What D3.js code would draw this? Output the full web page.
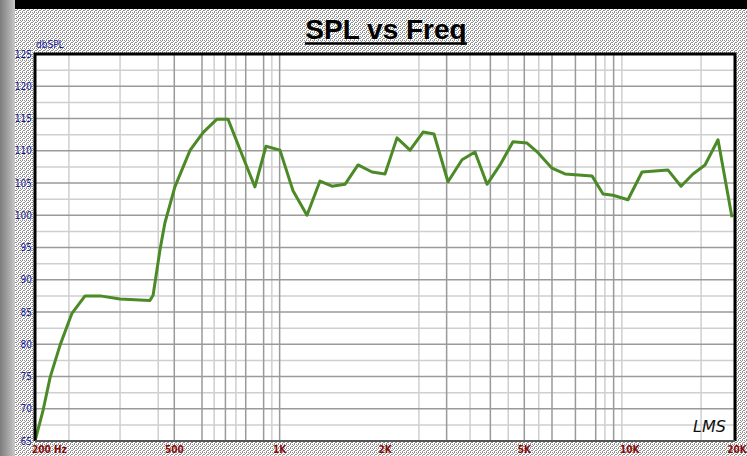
<!DOCTYPE html>
<html>
<head>
<meta charset="utf-8">
<script src="https://cdn.jsdelivr.net/npm/d3@7"></script>
<style>
  body { margin: 0; background: #fff; }
  svg { display: block; }
</style>
</head>
<body>
<div id="container"></div>
<script>
// measured response (Hz, dB SPL)
const freqs = [200, 211, 221, 236, 255, 278, 307, 350, 426, 435, 455, 470, 502, 555, 604, 662, 712,
  786, 850, 914, 1002, 1092, 1197, 1304, 1411, 1537, 1675, 1836, 2000, 2164, 2358, 2569, 2760,
  3027, 3320, 3615, 3913, 4262, 4642, 5090, 5472, 6000, 6537, 7806, 8394, 8961, 9890, 10850,
  12876, 14020, 15170, 16420, 17885, 19605];
const spl = [65, 69.8, 74.9, 79.9, 84.8, 87.5, 87.5, 87.0, 86.8, 87.6, 94.6, 98.8, 104.4, 110.1, 112.8, 114.9, 114.9,
  109.0, 104.4, 110.7, 110.1, 103.8, 100.0, 105.3, 104.5, 104.8, 107.8, 106.7, 106.4, 112.0, 110.1, 112.9, 112.6,
  105.2, 108.6, 109.8, 104.8, 107.8, 111.4, 111.2, 109.7, 107.3, 106.4, 106.1, 103.3, 103.1, 102.4, 106.7,
  107.0, 104.5, 106.4, 107.8, 111.7, 99.7];

const majorGridFreqs = [500, 600, 700, 800, 900, 1000, 3000, 4000, 5000, 6000, 7000, 8000, 9000];
const minorGridFreqs = [250, 350, 450, 650, 750, 950, 2500, 3500, 4500, 5500, 8500, 9500, 16000];
const xTickFreqs = [200, 500, 1000, 2000, 5000, 10000, 20000];
const xTickLabels = ["200 Hz", "500", "1K", "2K", "5K", "10K", "20K"];
const yTicks = [125, 120, 115, 110, 105, 100, 95, 90, 85, 80, 75, 70, 65];

const W = 747, H = 456;
const plot = { left: 35, right: 735, top: 54, bottom: 441 };

const x = d3.scaleLog().domain([200, 20000]).range([plot.left, plot.right]);
const y = d3.scaleLinear().domain([65, 125]).range([plot.bottom, plot.top]);

const svg = d3.select("#container").append("svg")
  .attr("width", W).attr("height", H);

// halftone background
const defs = svg.append("defs");
const pat = defs.append("pattern")
  .attr("id", "dots").attr("width", 4).attr("height", 4)
  .attr("patternUnits", "userSpaceOnUse");
pat.append("rect").attr("width", 4).attr("height", 4).attr("fill", "#fff");
[[0, 0], [2, 0], [1, 1], [3, 2], [0, 2], [2, 3]].forEach(p => {
  pat.append("rect").attr("x", p[0]).attr("y", p[1]).attr("width", 1).attr("height", 1).attr("fill", "#8e8e8e");
});
const grad = defs.append("linearGradient").attr("id", "edge").attr("x1", 0).attr("x2", 1);
grad.append("stop").attr("offset", 0).attr("stop-color", "#7c7c7c");
grad.append("stop").attr("offset", 0.6).attr("stop-color", "#a8a8a8");
grad.append("stop").attr("offset", 1).attr("stop-color", "#c8c8c8");

svg.append("rect").attr("width", W).attr("height", H).attr("fill", "url(#dots)");
svg.append("rect").attr("x", 0).attr("y", 0).attr("width", 15).attr("height", H).attr("fill", "url(#edge)");
svg.append("rect").attr("x", 15).attr("y", 0).attr("width", W - 15).attr("height", 9).attr("fill", "#000");

// title
svg.append("text")
  .attr("x", 386).attr("y", 39)
  .attr("text-anchor", "middle")
  .style("font-family", "'Liberation Sans', Arial, sans-serif")
  .style("font-weight", "bold").style("font-size", "28px")
  .text("SPL vs Freq");
svg.append("line")
  .attr("x1", 305).attr("x2", 467).attr("y1", 43.5).attr("y2", 43.5)
  .attr("stroke", "#000").attr("stroke-width", 2.5);

// plot area
svg.append("rect")
  .attr("x", plot.left).attr("y", plot.top)
  .attr("width", plot.right - plot.left).attr("height", plot.bottom - plot.top)
  .attr("fill", "#fff");

const grid = svg.append("g");
const minorDb = d3.range(67.5, 125, 5);
grid.selectAll(".hminor").data(minorDb).enter().append("line")
  .attr("x1", plot.left).attr("x2", plot.right)
  .attr("y1", d => y(d)).attr("y2", d => y(d))
  .attr("stroke", "#cfcfcf").attr("stroke-width", 1.5);
grid.selectAll(".vminor").data(minorGridFreqs).enter().append("line")
  .attr("x1", d => x(d)).attr("x2", d => x(d))
  .attr("y1", plot.top).attr("y2", plot.bottom)
  .attr("stroke", "#cfcfcf").attr("stroke-width", 1.5);
grid.selectAll(".hmajor").data(yTicks.slice(1, -1)).enter().append("line")
  .attr("x1", plot.left).attr("x2", plot.right)
  .attr("y1", d => y(d)).attr("y2", d => y(d))
  .attr("stroke", "#9a9a9a").attr("stroke-width", 1.5);
grid.selectAll(".vmajor").data(majorGridFreqs).enter().append("line")
  .attr("x1", d => x(d)).attr("x2", d => x(d))
  .attr("y1", plot.top).attr("y2", plot.bottom)
  .attr("stroke", "#9a9a9a").attr("stroke-width", 1.5);

// response curve
const line = d3.line()
  .x((d, i) => x(freqs[i]))
  .y(d => y(d));
svg.append("path")
  .datum(spl)
  .attr("d", line)
  .attr("fill", "none")
  .attr("stroke", "#4b8a26")
  .attr("stroke-width", 3)
  .attr("stroke-linejoin", "round");

// frame
svg.append("path")
  .attr("d", `M${plot.left},${plot.bottom} V${plot.top} H${plot.right} V${plot.bottom}`)
  .attr("fill", "none").attr("stroke", "#000").attr("stroke-width", 3);
svg.append("line")
  .attr("x1", plot.left).attr("x2", plot.right)
  .attr("y1", plot.bottom).attr("y2", plot.bottom)
  .attr("stroke", "#555").attr("stroke-width", 2);

// axis labels
svg.append("g").selectAll("text").data(yTicks).enter().append("text")
  .attr("x", 32).attr("y", d => y(d))
  .attr("dy", "0.35em")
  .attr("text-anchor", "end")
  .style("font-family", "'DejaVu Sans Condensed', 'DejaVu Sans', sans-serif")
  .style("font-size", "10px")
  .attr("fill", "#1c1c9a")
  .text(d => d);

svg.append("text")
  .attr("x", 36).attr("y", 48)
  .style("font-family", "'DejaVu Sans Condensed', 'DejaVu Sans', sans-serif")
  .style("font-size", "10px")
  .attr("fill", "#1c1c9a")
  .text("dbSPL");

svg.append("g").selectAll("text").data(xTickFreqs).enter().append("text")
  .attr("x", (d, i) => i === 0 ? x(d) - 3 : (i === xTickFreqs.length - 1 ? x(d) + 2 : x(d)))
  .attr("y", 453)
  .attr("text-anchor", (d, i) => i === 0 ? "start" : "middle")
  .style("font-family", "'DejaVu Sans Condensed', 'DejaVu Sans', sans-serif")
  .style("font-size", "10px")
  .style("font-weight", "bold")
  .attr("fill", "#8b0a0a")
  .text((d, i) => xTickLabels[i]);

// signature
svg.append("text")
  .attr("x", 693).attr("y", 432)
  .style("font-family", "'DejaVu Sans', sans-serif")
  .style("font-style", "italic")
  .style("font-size", "16px")
  .attr("fill", "#111")
  .text("LMS");
</script>
</body>
</html>
